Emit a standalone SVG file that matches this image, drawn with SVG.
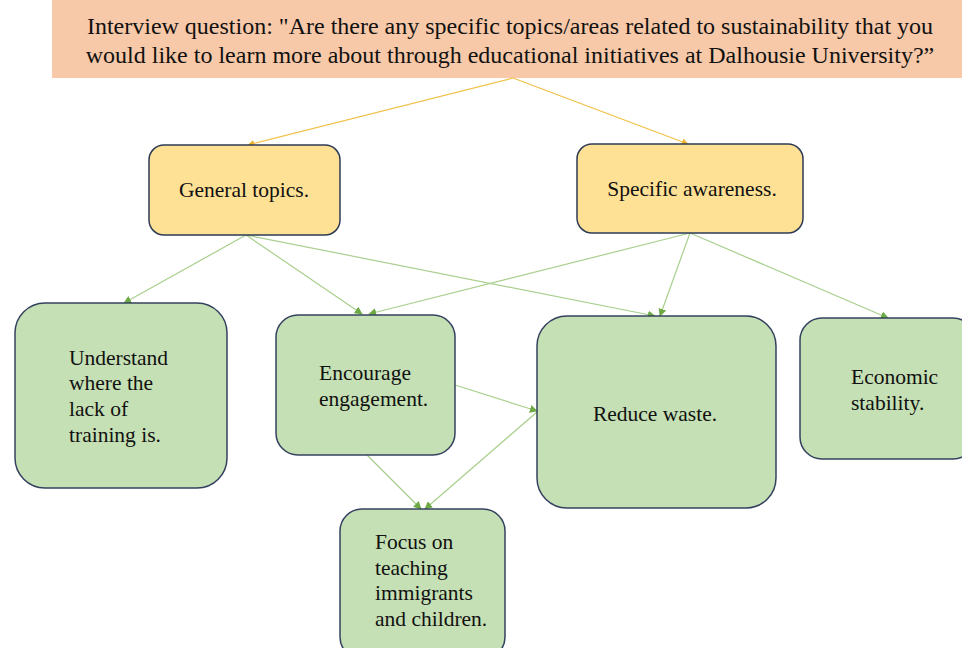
<svg xmlns="http://www.w3.org/2000/svg" width="962" height="648" viewBox="0 0 962 648">
<style>
.t{font-family:"Liberation Serif","Times New Roman",serif;fill:#111;}
.q{font-size:24px;}
.n{font-size:21.5px;}
.y{fill:#FFE196;stroke:#2E3B55;stroke-width:1.5;}
.g{fill:#C5E0B4;stroke:#34425F;stroke-width:1.5;}
.cy{stroke:#F2C04A;stroke-width:1.2;fill:none;}
.cg{stroke:#A8D08D;stroke-width:1.2;fill:none;}
</style>
<defs>
<marker id="ay" viewBox="0 0 10 10" refX="9" refY="5" markerWidth="7" markerHeight="7" orient="auto" markerUnits="userSpaceOnUse"><path d="M0,0 L10,5 L0,10 z" fill="#EDB22E"/></marker>
<marker id="ag" viewBox="0 0 10 10" refX="9" refY="5" markerWidth="8" markerHeight="8" orient="auto" markerUnits="userSpaceOnUse"><path d="M0,0 L10,5 L0,10 z" fill="#6DAA45"/></marker>
</defs>
<rect width="962" height="648" fill="#fff"/>
<g id="question">
<rect x="52" y="0" width="915" height="78" fill="#F8C9A8"/>
<text class="t q" x="510" y="34" text-anchor="middle">Interview question: "Are there any specific topics/areas related to sustainability that you</text>
<text class="t q" x="510" y="63" text-anchor="middle">would like to learn more about through educational initiatives at Dalhousie University?”</text>
</g>
<g id="connectors">
<line class="cy" x1="513" y1="78" x2="248" y2="145" marker-end="url(#ay)"/>
<line class="cy" x1="513" y1="78" x2="688" y2="144" marker-end="url(#ay)"/>
<line class="cg" x1="246" y1="235" x2="124" y2="303" marker-end="url(#ag)"/>
<line class="cg" x1="246" y1="235" x2="362" y2="314" marker-end="url(#ag)"/>
<line class="cg" x1="246" y1="235" x2="655" y2="316" marker-end="url(#ag)"/>
<line class="cg" x1="690" y1="233" x2="369" y2="314" marker-end="url(#ag)"/>
<line class="cg" x1="690" y1="233" x2="660" y2="316" marker-end="url(#ag)"/>
<line class="cg" x1="690" y1="233" x2="888" y2="318" marker-end="url(#ag)"/>
<line class="cg" x1="455" y1="385" x2="537" y2="411" marker-end="url(#ag)"/>
<line class="cg" x1="367" y1="455" x2="421" y2="509" marker-end="url(#ag)"/>
<line class="cg" x1="537" y1="412" x2="425" y2="509" marker-end="url(#ag)"/>
</g>
<g id="general">
<rect class="y" x="149" y="145" width="191" height="90" rx="15"/>
<text class="t n" x="244" y="197" text-anchor="middle">General topics.</text>
</g>
<g id="specific">
<rect class="y" x="577" y="144" width="226" height="89" rx="15"/>
<text class="t n" x="692" y="196" text-anchor="middle">Specific awareness.</text>
</g>
<g id="understand">
<rect class="g" x="15" y="303" width="212" height="185" rx="30"/>
<text class="t n" x="69" y="365">Understand</text>
<text class="t n" x="69" y="390">where the</text>
<text class="t n" x="69" y="416">lack of</text>
<text class="t n" x="69" y="442">training is.</text>
</g>
<g id="encourage">
<rect class="g" x="276" y="315" width="179" height="140" rx="22"/>
<text class="t n" x="319" y="380">Encourage</text>
<text class="t n" x="319" y="406">engagement.</text>
</g>
<g id="reduce">
<rect class="g" x="537" y="316" width="239" height="192" rx="30"/>
<text class="t n" x="655" y="421" text-anchor="middle">Reduce waste.</text>
</g>
<g id="economic">
<rect class="g" x="800" y="318" width="175" height="141" rx="22"/>
<text class="t n" x="851" y="384">Economic</text>
<text class="t n" x="851" y="410">stability.</text>
</g>
<g id="focus">
<rect class="g" x="340" y="509" width="165" height="150" rx="22"/>
<text class="t n" x="375" y="549">Focus on</text>
<text class="t n" x="375" y="575">teaching</text>
<text class="t n" x="375" y="600">immigrants</text>
<text class="t n" x="375" y="626">and children.</text>
</g>
</svg>
